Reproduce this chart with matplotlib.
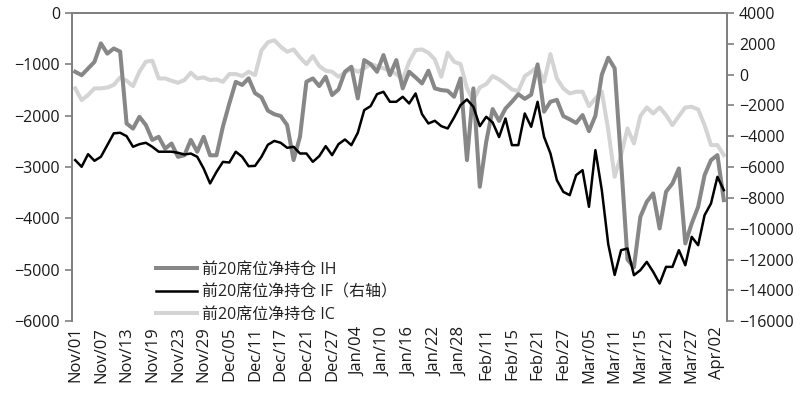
import matplotlib
matplotlib.use("Agg")
import matplotlib.pyplot as plt
import numpy as np

plt.rcParams['font.family'] = ['Open Sans', 'Noto Sans CJK SC', 'DejaVu Sans']

# 前20席位净持仓, 102个交易日 (2018/11/01 - 2019/04/03)
ih = [-1143, -1210, -1080, -950, -590, -790, -690, -750, -2150, -2250,
      -2020, -2180, -2470, -2410, -2640, -2540, -2800, -2770, -2470, -2700,
      -2410, -2770, -2770, -2210, -1760, -1340, -1400, -1270, -1560, -1640,
      -1900, -1970, -2006, -2182, -2863, -2409, -1338, -1273, -1422, -1240,
      -1597, -1487, -1143, -1045, -1662, -916, -994, -1143, -818, -1208,
      -916, -1467, -1143, -1253, -1370, -1123, -1467, -1500, -1513, -1630,
      -1273, -2863, -1467, -3383, -2506, -1870, -2100, -1860, -1727, -1580,
      -1670, -1590, -1000, -1920, -1727, -1690, -2006, -2070, -2140, -1987,
      -2300, -2000, -1200, -870, -1075, -2900, -4800, -4950, -3968, -3675,
      -3513, -4195, -3480, -3318, -3026, -4487, -4097, -3773, -3156, -2864,
      -2766, -3643]

if_right = [-5546, -5980, -5160, -5590, -5330, -4570, -3810, -3770, -3990, -4680,
            -4510, -4420, -4680, -5000, -5000, -5000, -5070, -5180, -5120, -5330,
            -6090, -7060, -6310, -5660, -5700, -5000, -5330, -5940, -5920, -5330,
            -4550, -4300, -4422, -4747, -4682, -5115, -5115, -5656, -5288, -4639,
            -5223, -4509, -4206, -4574, -3773, -2301, -2041, -1261, -1110, -1759,
            -1759, -1435, -1868, -1218, -2560, -3167, -2993, -3340, -3491, -2777,
            -1976, -1608, -2084, -3340, -2733, -3100, -4050, -2842, -4573, -4573,
            -2517, -3383, -1759, -4032, -5115, -6847, -7605, -7821, -6522, -6197,
            -8579, -4898, -7500, -11000, -13000, -11393, -11285, -13017, -12692, -12151,
            -12800, -13558, -12476, -12476, -11393, -12368, -10527, -11069, -9120, -8362,
            -6630, -7496]

ic = [-1467, -1695, -1597, -1467, -1467, -1450, -1400, -1253, -1318, -1422,
      -1143, -948, -928, -1273, -1273, -1318, -1357, -1305, -1162, -1273,
      -1253, -1305, -1292, -1338, -1188, -1188, -1227, -1143, -1208, -730,
      -568, -530, -656, -753, -708, -864, -994, -838, -1032, -1123,
      -1143, -1240, -1162, -1078, -1143, -1078, -994, -1032, -1078, -1123,
      -1188, -1292, -948, -721, -708, -773, -903, -1240, -773, -948,
      -994, -1467, -1695, -1448, -1383, -1227, -1292, -1383, -1487, -1520,
      -1230, -1143, -1045, -1338, -799, -1273, -1467, -1565, -1532, -1532,
      -1812, -1662, -1532, -2279, -3188, -2766, -2246, -2539, -2006, -1838,
      -1955, -1838, -1987, -2182, -2006, -1838, -1825, -1877, -2182, -2571,
      -2571, -2766]

# 每4个交易日一个标签
tick_labels = ["Nov/01", "Nov/07", "Nov/13", "Nov/19", "Nov/23", "Nov/29",
               "Dec/05", "Dec/11", "Dec/17", "Dec/21", "Dec/27", "Jan/04",
               "Jan/10", "Jan/16", "Jan/22", "Jan/28", "Feb/11", "Feb/15",
               "Feb/21", "Feb/27", "Mar/05", "Mar/11", "Mar/15", "Mar/21",
               "Mar/27", "Apr/02"]

x = np.arange(len(ih))

fig = plt.figure(figsize=(8.09, 3.96), dpi=100)
ax = fig.add_axes([0.089, 0.189, 0.8097, 0.778])
ax2 = ax.twinx()

l3, = ax.plot(x, ic, color="#d4d4d4", lw=2.9, label="前20席位净持仓 IC")
l1, = ax.plot(x, ih, color="#878787", lw=2.9, label="前20席位净持仓 IH")
l2, = ax2.plot(x, if_right, color="#000000", lw=1.8, label="前20席位净持仓 IF（右轴）")

ax.set_xlim(-0.5, len(ih) - 0.5)
ax.set_ylim(-6000, 0)
ax.set_yticks(np.arange(-6000, 1, 1000))
ax2.set_ylim(-16000, 4000)
ax2.set_yticks(np.arange(-16000, 4001, 2000))

ax.set_xticks(x[::4])
ax.set_xticklabels(tick_labels, rotation=90, fontsize=12, color="#1a1a1a")
ax.tick_params(axis="x", length=0, pad=4)
ax.tick_params(axis="y", labelsize=11.5, colors="#1a1a1a", color="#808080",
               direction="out", length=5, width=1.2)
ax2.tick_params(axis="y", labelsize=11.5, colors="#1a1a1a", color="#808080",
                direction="out", length=5, width=1.2)

for a in (ax, ax2):
    for s in a.spines.values():
        s.set_color("#808080")
        s.set_linewidth(1.3)
    a.spines["bottom"].set_visible(False)

leg = ax2.legend(handles=[l1, l2, l3], loc="center left",
                 bbox_to_anchor=(0.128, 0.094), frameon=False,
                 fontsize=11.5, handlelength=2.6, handletextpad=0.3,
                 labelspacing=0.42, borderpad=0, borderaxespad=0)
for t in leg.get_texts():
    t.set_color("#222222")

fig.savefig("out.png", dpi=100)
